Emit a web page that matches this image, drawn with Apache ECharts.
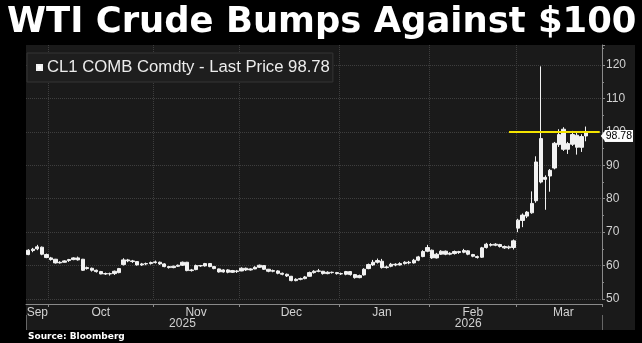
<!DOCTYPE html>
<html>
<head>
<meta charset="utf-8">
<script src="https://cdn.jsdelivr.net/npm/echarts@6/dist/echarts.min.js"></script>
<style>
  html, body { margin: 0; padding: 0; background: #000; }
  #chart { width: 642px; height: 343px; }
</style>
</head>
<body>
<div id="chart"></div>
<script>
// Daily sessions of the front-month contract (weekdays, exchange holidays removed)
const firstSession = '2025-09-24';
const sessionSlots = 127;            // 124 traded sessions + a few blank slots on the right
const closedDays = ['2025-11-27', '2025-12-25', '2026-01-01', '2026-01-19', '2026-02-16'];

// Daily bars as [open, high, low, close]
const sep = [
  [63.3, 64.9, 63.1, 64.6], [64.5, 65.3, 64.0, 64.9], [65.0, 66.2, 64.6, 65.6],
  [65.5, 65.7, 63.1, 63.4], [63.3, 63.6, 62.2, 62.4]
];
const oct = [
  [62.3, 62.6, 61.5, 61.8], [61.9, 62.0, 60.6, 60.8], [60.8, 61.3, 60.6, 61.0],
  [61.0, 61.6, 60.9, 61.4], [61.5, 62.0, 61.1, 61.8], [61.8, 62.5, 61.6, 62.3],
  [62.3, 62.7, 61.5, 61.7], [61.9, 62.0, 58.4, 58.6], [59.1, 59.7, 58.8, 59.4],
  [59.2, 59.4, 58.2, 58.6], [58.6, 58.8, 57.9, 58.2], [58.2, 58.4, 57.4, 57.5],
  [57.6, 57.9, 57.2, 57.5], [57.5, 57.9, 57.0, 57.6], [57.6, 58.5, 57.2, 58.3],
  [57.9, 59.3, 57.7, 59.1], [60.3, 62.2, 60.0, 61.7], [61.7, 62.0, 61.0, 61.4],
  [61.4, 61.7, 60.8, 61.2], [61.2, 61.3, 60.0, 60.2], [60.2, 60.8, 59.9, 60.5],
  [60.5, 60.9, 60.1, 60.6], [60.6, 61.2, 60.3, 60.9]
];
const nov = [
  [60.9, 61.5, 60.6, 61.1], [61.0, 61.2, 60.2, 60.5], [60.5, 60.7, 59.5, 59.7],
  [59.7, 59.9, 59.1, 59.4], [59.4, 60.0, 59.2, 59.8], [59.8, 60.3, 59.6, 60.1],
  [60.1, 61.2, 59.9, 61.0], [61.0, 61.1, 58.3, 58.5], [58.5, 59.0, 58.2, 58.7],
  [58.8, 60.3, 58.6, 60.0], [60.0, 60.2, 59.6, 59.9], [59.9, 60.8, 59.7, 60.6],
  [60.6, 60.7, 59.5, 59.7], [59.7, 59.9, 58.9, 59.1], [59.0, 59.1, 57.9, 58.1],
  [58.1, 58.9, 57.9, 58.7], [58.7, 58.9, 57.7, 58.0], [58.0, 58.7, 57.8, 58.5],
  [58.4, 58.7, 57.8, 58.2]
];
const dec = [
  [58.4, 59.5, 58.3, 59.2], [59.2, 59.4, 58.4, 58.7], [58.7, 59.2, 58.5, 59.0],
  [59.0, 59.8, 58.9, 59.5], [59.5, 60.3, 59.3, 60.1], [60.0, 60.1, 58.7, 58.9],
  [58.9, 59.0, 58.0, 58.3], [58.3, 58.8, 58.0, 58.5], [58.4, 58.6, 57.4, 57.7],
  [57.7, 57.9, 57.1, 57.4], [57.4, 57.6, 56.6, 56.9], [56.8, 56.9, 55.3, 55.5],
  [55.5, 56.2, 55.3, 55.9], [55.9, 56.4, 55.6, 56.1], [56.1, 56.9, 55.9, 56.6],
  [56.8, 58.2, 56.7, 57.9], [57.9, 58.6, 57.6, 58.3], [58.3, 59.0, 58.0, 58.4],
  [58.3, 58.4, 57.3, 57.6], [57.6, 58.3, 57.4, 58.0], [58.0, 58.2, 57.6, 57.9],
  [57.9, 58.1, 57.3, 57.6]
];
const jan = [
  [57.6, 57.9, 57.2, 57.5], [57.4, 58.4, 57.1, 58.2], [58.2, 58.3, 57.0, 57.3],
  [57.3, 57.5, 56.1, 56.4], [56.4, 57.3, 56.2, 57.0], [57.2, 59.2, 57.0, 58.9],
  [59.1, 60.6, 58.9, 60.3], [60.2, 61.7, 59.9, 61.0], [61.0, 62.1, 60.6, 61.5],
  [61.3, 62.0, 59.1, 59.4], [59.4, 60.0, 59.1, 59.6], [59.8, 60.8, 59.5, 60.4],
  [60.4, 60.7, 59.8, 60.2], [60.2, 61.0, 60.0, 60.6], [60.6, 61.3, 60.3, 61.0],
  [61.0, 61.4, 60.4, 60.8], [60.8, 62.0, 60.6, 61.6], [61.6, 62.9, 61.3, 62.6],
  [62.7, 64.6, 62.5, 64.2], [64.3, 66.2, 64.0, 65.4]
];
const feb = [
  [64.6, 64.8, 62.0, 62.3], [62.3, 63.8, 62.1, 63.4], [63.4, 64.6, 63.2, 64.3],
  [64.3, 64.5, 63.1, 63.4], [63.4, 64.0, 63.1, 63.7], [63.6, 64.5, 63.3, 64.2],
  [64.2, 64.4, 63.5, 63.9], [64.0, 65.0, 63.7, 64.5], [64.4, 64.6, 63.1, 63.4],
  [63.3, 63.5, 62.5, 62.8], [62.7, 63.0, 62.1, 62.4], [62.5, 65.6, 62.3, 65.3],
  [65.4, 66.8, 65.1, 66.4], [66.3, 66.7, 65.7, 66.1], [66.1, 66.7, 65.8, 66.4],
  [66.3, 66.5, 65.4, 65.7], [65.7, 66.0, 65.0, 65.3], [65.3, 66.0, 64.9, 65.6],
  [65.4, 67.8, 64.8, 67.4]
];
const mar = [
  [71.2, 74.0, 70.0, 73.6], [73.5, 75.6, 71.5, 75.1], [74.8, 76.3, 74.2, 76.0],
  [75.8, 82.2, 75.5, 78.6], [79.4, 92.7, 78.8, 91.0], [98.0, 119.6, 84.6, 85.0],
  [86.4, 87.0, 76.7, 85.8], [86.8, 88.9, 82.1, 88.5], [89.2, 97.0, 88.8, 96.6],
  [96.2, 100.8, 95.5, 99.2], [100.8, 101.4, 94.3, 94.8], [94.8, 97.0, 93.4, 96.5],
  [96.3, 100.3, 95.8, 99.2], [99.0, 100.0, 93.2, 95.4], [95.4, 99.3, 94.0, 98.6],
  [100.1, 101.6, 97.2, 98.78]
];

// Axis labelling
const monthLabelAt = ['2025-09-26', '2025-10-16', '2025-11-14', '2025-12-16', '2026-01-15', '2026-02-13', '2026-03-16'];
const yearLabelAt = ['2025-11-11', '2026-02-12'];
const monthNames = ['Jan', 'Feb', 'Mar', 'Apr', 'May', 'Jun', 'Jul', 'Aug', 'Sep', 'Oct', 'Nov', 'Dec'];
const priceTicks = { min: 50, max: 126, step: 10 };

// Annotation
const resistanceLevel = 100;
const resistanceFrom = '2026-02-26';
const seriesName = 'CL1 COMB Comdty - Last Price';

function tradingSessions(start, count, closed) {
  const out = [];
  const d = new Date(start + 'T00:00:00Z');
  while (out.length < count) {
    const wd = d.getUTCDay();
    const s = d.toISOString().slice(0, 10);
    if (wd !== 0 && wd !== 6 && closed.indexOf(s) < 0) out.push(s);
    d.setUTCDate(d.getUTCDate() + 1);
  }
  return out;
}

const categories = tradingSessions(firstSession, sessionSlots, closedDays);
const bars = [].concat(sep, oct, nov, dec, jan, feb, mar);
// ECharts candlestick order: [open, close, low, high]
const candleData = bars.map(b => [b[0], b[3], b[2], b[1]]);
const lastPrice = bars[bars.length - 1][3];
const lastSlot = categories[categories.length - 1];

const monthStart = (i) => i > 0 && categories[i].slice(0, 7) !== categories[i - 1].slice(0, 7);
const yearStart = (i) => i > 0 && categories[i].slice(0, 4) !== categories[i - 1].slice(0, 4);

const FONT = 'Liberation Sans, Arial, sans-serif';
const AXIS_GRAY = '#8a8a8a';
const GRID_GRAY = '#3e3e3e';
const WHITE = '#f2f2f2';

const chart = echarts.init(document.getElementById('chart'), null, { renderer: 'canvas' });

chart.setOption({
  backgroundColor: '#000000',
  animation: false,
  title: [
    {
      text: 'WTI Crude Bumps Against $100',
      left: 7, top: 3, padding: 0,
      textStyle: { color: '#ffffff', fontSize: 35.4, fontWeight: 'bold', fontFamily: 'DejaVu Sans', lineHeight: 40 }
    },
    {
      text: 'Source: Bloomberg',
      left: 28, top: 332, padding: 0,
      textStyle: { color: '#ffffff', fontSize: 9, fontWeight: 'bold', fontFamily: 'DejaVu Sans' }
    }
  ],
  graphic: [
    {
      type: 'rect', left: 26, top: 45, z: -10, silent: true,
      shape: { width: 609, height: 285 },
      style: { fill: '#1a1a1a' }
    }
  ],
  legend: {
    left: 27, top: 53,
    data: [{ name: seriesName, icon: 'rect' }],
    itemWidth: 5, itemHeight: 5,
    selectedMode: false,
    backgroundColor: '#1e1e1e',
    borderColor: '#353535', borderWidth: 1,
    padding: [6, 3, 6, 9],
    itemStyle: { color: '#ffffff' },
    formatter: (name) => name + ' ' + lastPrice.toFixed(2),
    textStyle: { color: '#ececec', fontSize: 16.7, fontFamily: FONT }
  },
  grid: { left: 26, right: 40, top: 45, bottom: 44, containLabel: false },
  xAxis: [
    {
      type: 'category',
      data: categories,
      boundaryGap: true,
      offset: 5,
      axisLine: { show: true, lineStyle: { color: AXIS_GRAY, width: 1 } },
      axisTick: { show: true, length: 3, interval: monthStart, lineStyle: { color: AXIS_GRAY } },
      axisLabel: {
        interval: (i, v) => monthLabelAt.indexOf(v) >= 0,
        formatter: (v) => monthNames[+v.slice(5, 7) - 1],
        color: '#d2d2d2', fontSize: 12, fontFamily: FONT, margin: 3
      },
      splitLine: { show: true, interval: monthStart, lineStyle: { color: GRID_GRAY, type: 'dotted' } }
    },
    {
      type: 'category',
      data: categories,
      boundaryGap: true,
      position: 'bottom',
      offset: 16,
      axisLine: { show: false },
      axisTick: { show: true, length: 15, interval: yearStart, lineStyle: { color: '#666666' } },
      axisLabel: {
        interval: (i, v) => yearLabelAt.indexOf(v) >= 0,
        formatter: (v) => v.slice(0, 4),
        color: '#d2d2d2', fontSize: 12, fontFamily: FONT, margin: 3
      },
      splitLine: { show: false }
    }
  ],
  yAxis: {
    type: 'value',
    position: 'right',
    min: priceTicks.min, max: priceTicks.max, interval: priceTicks.step,
    axisLine: { show: true, lineStyle: { color: AXIS_GRAY } },
    axisTick: { show: true, length: 3, lineStyle: { color: AXIS_GRAY } },
    minorTick: { show: true, splitNumber: 2, length: 2, lineStyle: { color: AXIS_GRAY } },
    axisLabel: {
      margin: 4, color: '#d2d2d2', fontSize: 12, fontFamily: FONT,
      showMaxLabel: false,
      formatter: (v) => (v % priceTicks.step === 0 ? String(v) : '')
    },
    splitLine: { show: true, showMaxLine: false, lineStyle: { color: GRID_GRAY, type: 'dotted' } }
  },
  series: [
    {
      name: seriesName,
      type: 'candlestick',
      xAxisIndex: 0, yAxisIndex: 0,
      data: candleData,
      barWidth: 3.8,
      itemStyle: { color: WHITE, color0: WHITE, borderColor: WHITE, borderColor0: WHITE, borderWidth: 1 },
      markLine: {
        silent: true,
        symbol: ['none', 'none'],
        label: { show: false },
        data: [
          // yellow resistance line at $100
          [
            { coord: [resistanceFrom, resistanceLevel], lineStyle: { color: '#f4e400', width: 2, type: 'solid' } },
            { coord: [lastSlot, resistanceLevel] }
          ],
          // last-price tag on the price axis (zero-width line, only its end marker and label show)
          [
            {
              coord: [categories[0], lastPrice],
              lineStyle: { color: '#ffffff', width: 0, opacity: 1 },
              label: {
                show: true, position: 'end', distance: 5,
                formatter: () => lastPrice.toFixed(2),
                color: '#000000', backgroundColor: '#ffffff', opacity: 1,
                padding: [1, 1, 0, 1], fontSize: 10.5, fontFamily: FONT
              }
            },
            {
              coord: [lastSlot, lastPrice],
              symbol: 'triangle', symbolSize: [12, 5], symbolRotate: 90,
              symbolOffset: [0, 3.5]
            }
          ]
        ]
      }
    }
  ]
});
</script>
</body>
</html>
